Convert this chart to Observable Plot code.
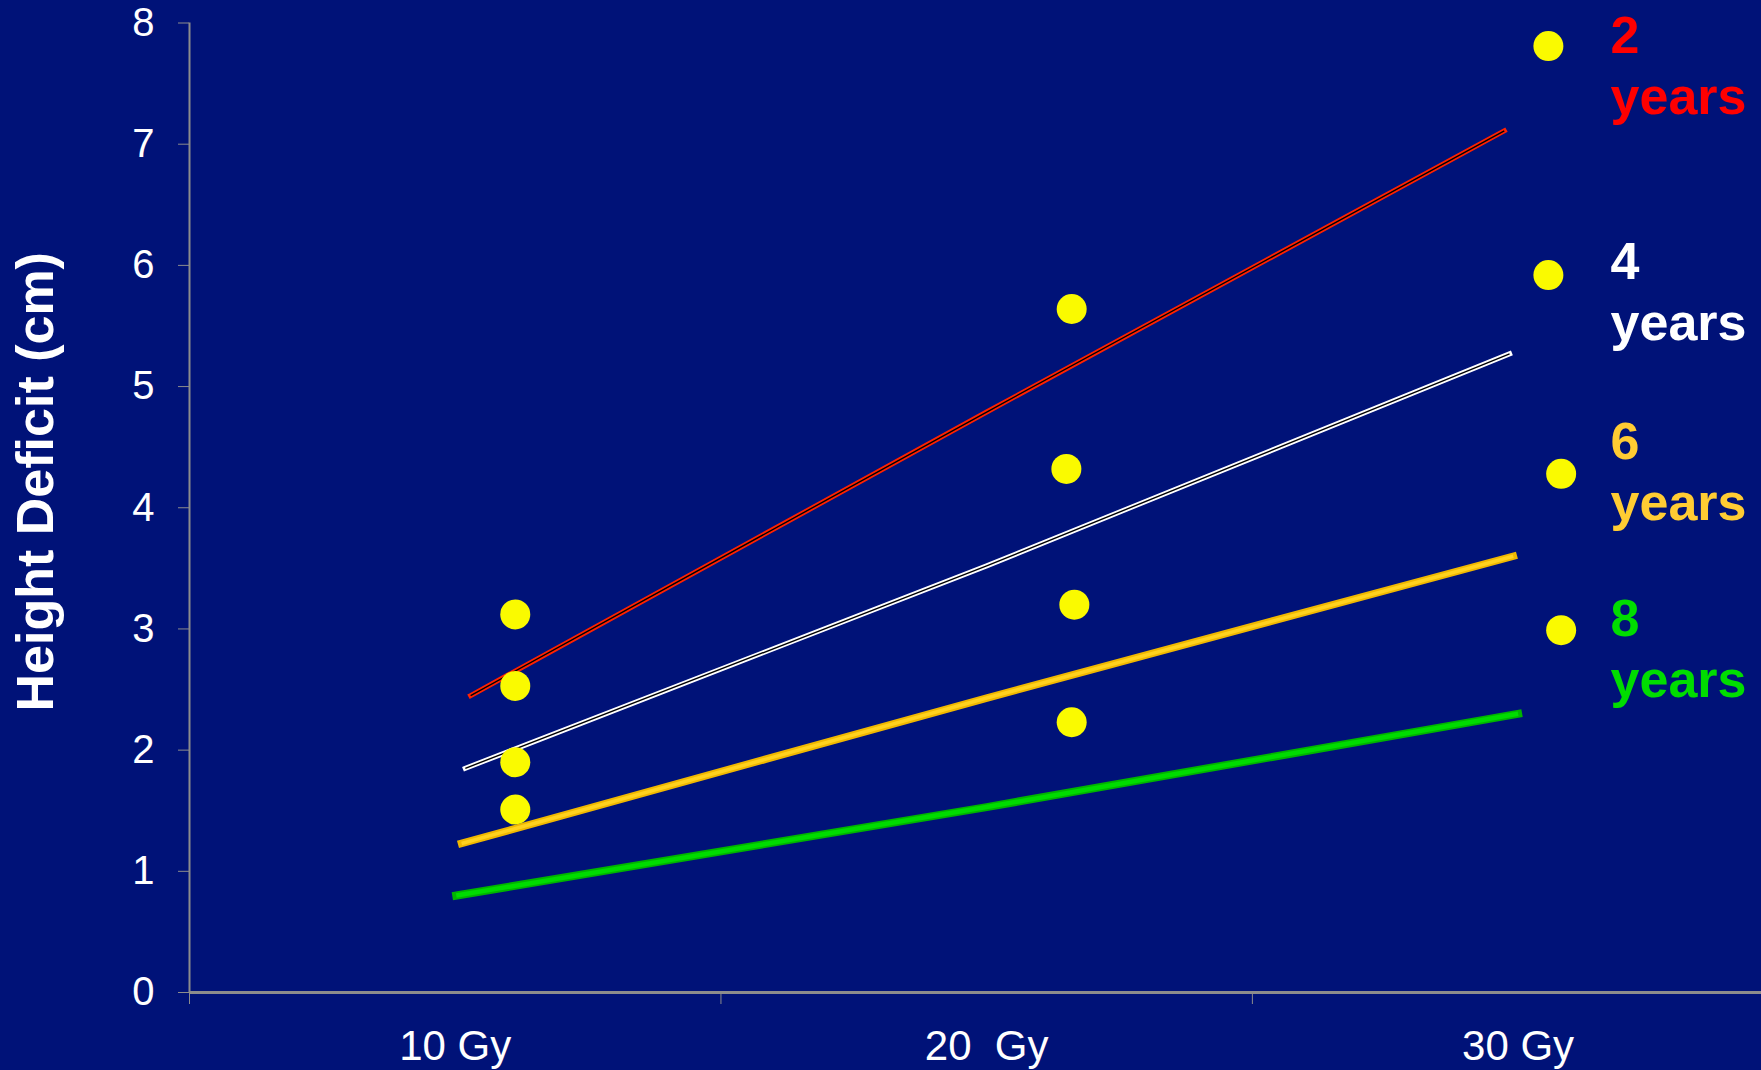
<!DOCTYPE html>
<html>
<head>
<meta charset="utf-8">
<script src="https://cdn.jsdelivr.net/npm/d3@7"></script>
<script src="https://cdn.jsdelivr.net/npm/@observablehq/plot@0.6"></script>
<style>
  html, body { margin: 0; padding: 0; background: #001278; overflow: hidden; }
</style>
</head>
<body>
<div id="chart"></div>
<script>
// Height deficit after cranial irradiation, by dose and age at treatment

const yTicks = [0, 1, 2, 3, 4, 5, 6, 7, 8];
const doseLabelAt = [10, 20, 30];
const doseLabels = ["10 Gy", "20\u00A0 Gy", "30 Gy"];
const doseBounds = [5, 15, 25];

const ageGroups = ["2", "4", "6", "8"];

// Fitted curves, one per age at treatment: dose (Gy) and deficit (cm)
const dose2 = [10.29, 20, 29.74], deficit2 = [2.45, 4.79, 7.11];
const dose4 = [10.19, 20, 29.84], deficit4 = [1.85, 3.52, 5.27];
const dose6 = [10.12, 20, 29.91], deficit6 = [1.23, 2.43, 3.60];
const dose8 = [10.02, 20, 30.00], deficit8 = [0.80, 1.53, 2.30];

// Observed group means
const obsDose    = [11.13, 11.13, 11.13, 11.13, 21.6, 21.5, 21.65, 21.6, 30.57, 30.57, 30.81, 30.81];
const obsDeficit = [3.12, 2.53, 1.90, 1.51, 5.64, 4.32, 3.20, 2.23, 7.81, 5.92, 4.28, 2.99];

// Age labels beside the 30 Gy column
const legendTop = [8.11, 6.24, 4.76, 3.30];
const legendDose = 31.74;
const legendColors = ["#FF0000", "#FFFFFF", "#FFCC33", "#00DD00"];

const toRows = (xs, ys) => xs.map((x, i) => ({dose: x, deficit: ys[i]}));
const c2 = toRows(dose2, deficit2);
const c4 = toRows(dose4, deficit4);
const c6 = toRows(dose6, deficit6);
const c8 = toRows(dose8, deficit8);
const obs = toRows(obsDose, obsDeficit);

const curveMarks = (rows, outer, outerW, inner, innerW) => [
  Plot.line(rows, {x: "dose", y: "deficit", stroke: outer, strokeWidth: outerW, strokeLinecap: "square"}),
  Plot.line(rows, {x: "dose", y: "deficit", stroke: inner, strokeWidth: innerW, strokeLinecap: "butt"})
];

const legendMarks = ageGroups.map((a, i) =>
  Plot.text([{label: a + "\nyears", top: legendTop[i]}], {
    x: () => legendDose, y: "top", text: "label",
    fill: legendColors[i], textAnchor: "start", lineAnchor: "top",
    lineHeight: 1.17, fontSize: 52, fontWeight: "bold"
  })
);

const chart = Plot.plot({
  width: 1761,
  height: 1070,
  marginLeft: 189,
  marginRight: 0,
  marginTop: 22.5,
  marginBottom: 78,
  x: {type: "linear", domain: [5, 34.58]},
  y: {domain: [0, 8]},
  style: {
    background: "#001278",
    color: "white",
    fontFamily: "'Liberation Sans', Arial, Helvetica, sans-serif",
    overflow: "visible"
  },
  marks: [
    Plot.ruleX([5], {stroke: "#8c8c8c", strokeWidth: 2}),
    Plot.axisY({ticks: yTicks, tickSize: 11, tickPadding: 24, fontSize: 40,
                stroke: "#8c8c8c", fill: "white", label: null}),
    Plot.axisX({ticks: doseBounds, tickSize: 12, stroke: "#8c8c8c", fill: "none", label: null}),
    Plot.axisX({ticks: doseLabelAt, tickSize: 0, tickPadding: 38, fontSize: 42, fill: "white",
                tickFormat: (d) => doseLabels[doseLabelAt.indexOf(d)], label: null}),
    Plot.ruleY([0], {stroke: "#8c8c8c", strokeWidth: 3}),
    Plot.text(["Height Deficit (cm)"], {
      text: (d) => d, frameAnchor: "left", textAnchor: "middle", lineAnchor: "middle",
      dx: -153, dy: -26, rotate: -90,
      fontSize: 52, fontWeight: "bold", fill: "white"
    }),
    ...curveMarks(c8, "#00B400", 8, "#00DC00", 4.5),
    ...curveMarks(c6, "#F0B800", 7.5, "#FFD21F", 3.5),
    ...curveMarks(c4, "#FFFFFF", 5, "#000000", 1.4),
    ...curveMarks(c2, "#FF2200", 5, "#000000", 1.4),
    Plot.dot(obs, {x: "dose", y: "deficit", r: 15, fill: "#FAFA00", stroke: "none"}),
    ...legendMarks
  ]
});

document.getElementById("chart").appendChild(chart);
</script>
</body>
</html>
